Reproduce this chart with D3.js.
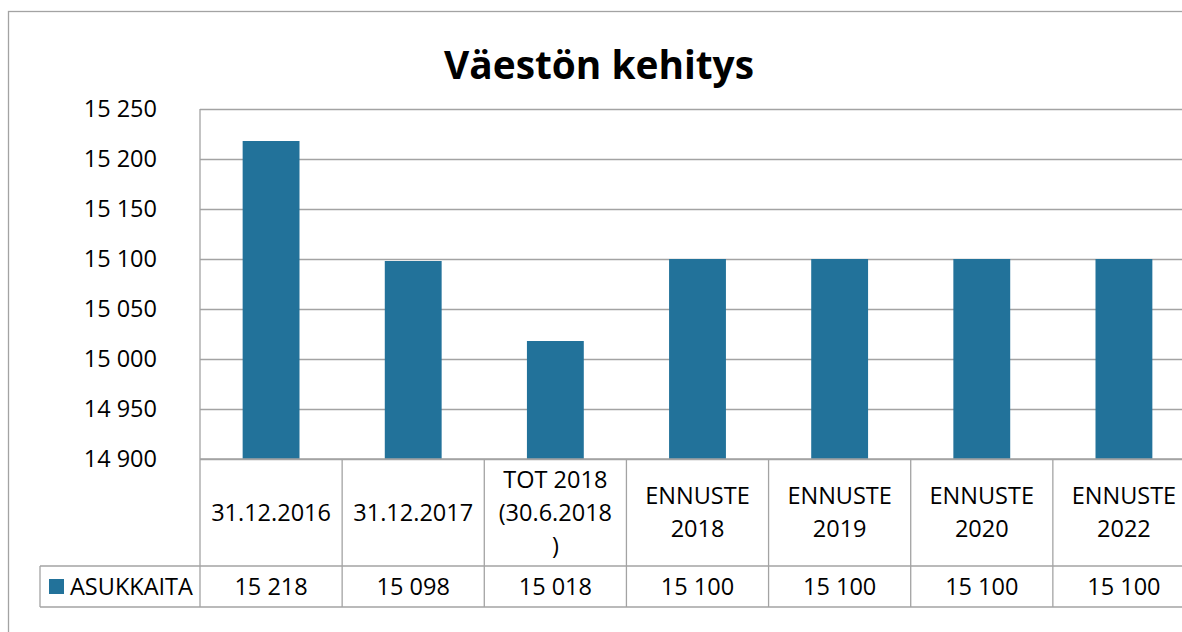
<!DOCTYPE html>
<html>
<head>
<meta charset="utf-8">
<script src="https://cdn.jsdelivr.net/npm/d3@7"></script>
<style>
  body { margin: 0; background: #fff; }
  svg { display: block; font-family: "Open Sans", sans-serif; }
</style>
</head>
<body>
<svg id="drawing_region"></svg>
<script>
var Categories = ["31.12.2016", "31.12.2017", "TOT 2018 (30.6.2018)", "ENNUSTE 2018", "ENNUSTE 2019", "ENNUSTE 2020", "ENNUSTE 2022"];
var CategoryLines = [["31.12.2016"], ["31.12.2017"], ["TOT 2018", "(30.6.2018", ")"], ["ENNUSTE", "2018"], ["ENNUSTE", "2019"], ["ENNUSTE", "2020"], ["ENNUSTE", "2022"]];
var Values = [15218, 15098, 15018, 15100, 15100, 15100, 15100];
var SeriesName = "ASUKKAITA";
var Title = "Väestön kehitys";
var YTicks = [14900, 14950, 15000, 15050, 15100, 15150, 15200, 15250];

const W = 1182, H = 632;
const plotL = 200, plotR = 1195, plotT = 109, plotB = 459;
const rowTop = 566, rowBottom = 607, legendLeft = 40;
const barColor = "#22729a", lineColor = "#a3a3a3", fontSize = 23.5;

const fmt = d3.formatLocale({ decimal: ",", thousands: " ", grouping: [3], currency: ["", ""] }).format(",d");

const svg = d3.select("#drawing_region").attr("width", W).attr("height", H);

// chart frame (cropped at right/bottom)
svg.append("rect")
    .attr("x", 8.5).attr("y", 11.5)
    .attr("width", W + 20).attr("height", H + 20)
    .attr("fill", "none").attr("stroke", lineColor).attr("stroke-width", 1.3);

const yscale = d3.scaleLinear().domain([14900, 15250]).range([plotB, plotT]);
const xcell = d3.scaleBand().domain(Categories).range([plotL, plotR]).padding(0);
const xbar = d3.scaleBand().domain(Categories).range([plotL, plotR]).paddingInner(0.6).paddingOuter(0.3);

// gridlines + labels
const yaxis = d3.axisLeft(yscale).tickValues(YTicks).tickFormat(fmt)
    .tickSize(-(plotR - plotL)).tickSizeOuter(0).tickPadding(43);
const yg = svg.append("g").attr("transform", `translate(${plotL},0)`).call(yaxis);
yg.select(".domain").remove();
yg.selectAll(".tick line").attr("stroke", lineColor).attr("stroke-width", 1.3);
yg.selectAll(".tick text").attr("font-size", fontSize).attr("fill", "#000")
    .attr("font-family", "'Open Sans', sans-serif");

// bars
svg.append("g").selectAll("rect")
    .data(Values)
    .join("rect")
    .attr("x", (d, i) => xbar(Categories[i]))
    .attr("y", d => yscale(d))
    .attr("width", xbar.bandwidth())
    .attr("height", d => yscale(14900) - yscale(d))
    .attr("fill", barColor);

// data table lines
const tbl = svg.append("g").attr("stroke", lineColor).attr("stroke-width", 1.3);
tbl.append("line").attr("x1", plotL).attr("x2", plotL).attr("y1", plotT).attr("y2", rowBottom);
tbl.append("line").attr("x1", plotL).attr("x2", W + 10).attr("y1", plotB).attr("y2", plotB);
tbl.append("line").attr("x1", legendLeft).attr("x2", W + 10).attr("y1", rowTop).attr("y2", rowTop);
tbl.append("line").attr("x1", legendLeft).attr("x2", W + 10).attr("y1", rowBottom).attr("y2", rowBottom);
tbl.append("line").attr("x1", legendLeft).attr("x2", legendLeft).attr("y1", rowTop).attr("y2", rowBottom);
tbl.selectAll(".sep")
    .data(Categories)
    .join("line")
    .attr("x1", d => xcell(d) + xcell.bandwidth())
    .attr("x2", d => xcell(d) + xcell.bandwidth())
    .attr("y1", plotB).attr("y2", rowBottom);

// header labels
const lineH = 33, headMid = (plotB + rowTop) / 2;
svg.append("g").selectAll("text")
    .data(CategoryLines)
    .join("text")
    .attr("x", (d, i) => xcell(Categories[i]) + xcell.bandwidth() / 2)
    .attr("text-anchor", "middle")
    .attr("font-size", fontSize)
    .each(function (lines) {
        const t = d3.select(this);
        const y0 = headMid - (lines.length - 1) * lineH / 2;
        lines.forEach((s, k) => {
            t.append("tspan")
                .attr("x", t.attr("x"))
                .attr("y", y0 + k * lineH)
                .attr("dy", "0.36em")
                .text(s);
        });
    });

// value row
const rowMid = (rowTop + rowBottom) / 2;
svg.append("g").selectAll("text")
    .data(Values)
    .join("text")
    .attr("x", (d, i) => xcell(Categories[i]) + xcell.bandwidth() / 2)
    .attr("y", rowMid)
    .attr("dy", "0.36em")
    .attr("text-anchor", "middle")
    .attr("font-size", fontSize)
    .text(d => fmt(d));

// legend key
svg.append("rect")
    .attr("x", 49).attr("y", rowMid - 7.5)
    .attr("width", 15).attr("height", 15)
    .attr("fill", barColor);
svg.append("text")
    .attr("x", 70).attr("y", rowMid).attr("dy", "0.36em")
    .attr("font-size", fontSize)
    .text(SeriesName);

// title, fitted to width
const title = svg.append("text")
    .attr("x", 599).attr("y", 79)
    .attr("text-anchor", "middle")
    .attr("font-weight", "bold")
    .attr("font-size", 44)
    .text(Title);
const tw = title.node().getComputedTextLength();
title.attr("font-size", 44 * 310 / tw);
</script>
</body>
</html>
